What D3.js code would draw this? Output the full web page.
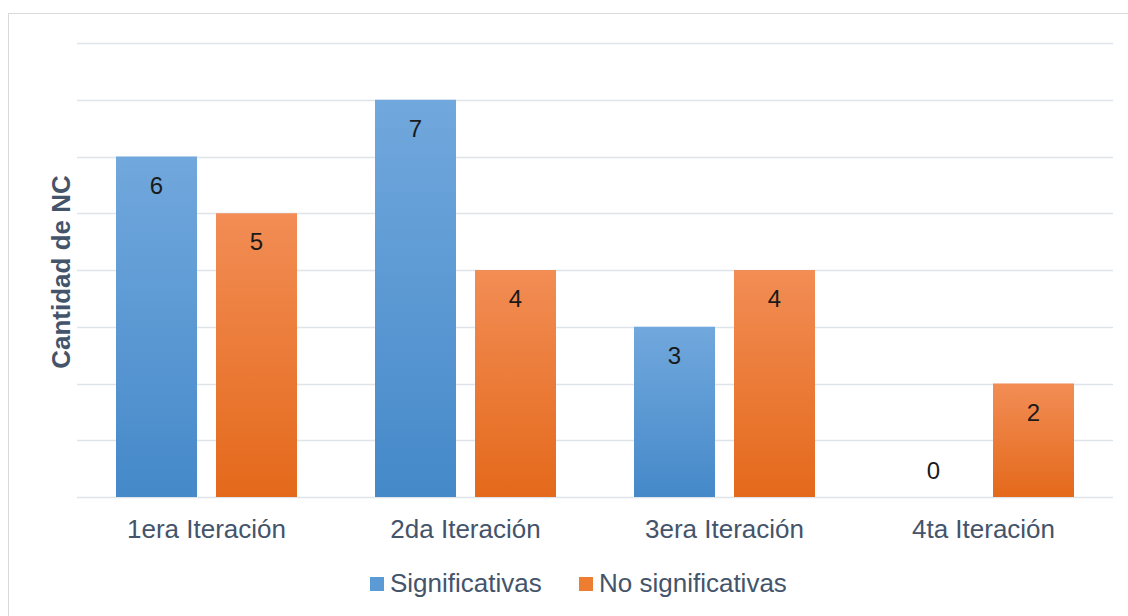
<!DOCTYPE html>
<html lang="es">
<head>
<meta charset="utf-8">
<title>Cantidad de NC por iteración</title>
<script src="https://cdn.jsdelivr.net/npm/d3@7"></script>
<style>
  body { margin: 0; background: #fff; }
  text { font-family: "Liberation Sans", Arial, sans-serif; }
</style>
</head>
<body>
<script>
// data
var categories = ["1era Iteración", "2da Iteración", "3era Iteración", "4ta Iteración"];
var seriesNames = ["Significativas", "No significativas"];
var significativas = [6, 7, 3, 0];
var noSignificativas = [5, 4, 4, 2];
var yTicks = [0, 1, 2, 3, 4, 5, 6, 7, 8];

var width = 1128, height = 616;
var margin = {top: 43, right: 15, bottom: 119, left: 77};

var svg = d3.select("body").append("svg")
    .attr("width", width)
    .attr("height", height);

// gradients like the Office style
var defs = svg.append("defs");
function grad(id, top, bottom) {
  var g = defs.append("linearGradient").attr("id", id)
      .attr("x1", 0).attr("y1", 0).attr("x2", 0).attr("y2", 1);
  g.append("stop").attr("offset", "0%").attr("stop-color", top);
  g.append("stop").attr("offset", "100%").attr("stop-color", bottom);
}
grad("gBlue", "#71a8dd", "#4589c9");
grad("gOrange", "#f28d55", "#e4691b");
var fills = ["url(#gBlue)", "url(#gOrange)"];
var legendFills = ["#5b9bd5", "#ed7d31"];

// chart border
svg.append("rect")
    .attr("x", 8.5).attr("y", 13.5)
    .attr("width", 1140).attr("height", 620)
    .attr("fill", "none").attr("stroke", "#d9d9d9");

var x0 = d3.scaleBand()
    .domain(categories)
    .range([margin.left, width - margin.right]);

var y = d3.scaleLinear()
    .domain([0, 8])
    .range([height - margin.bottom, margin.top]);

// gridlines
svg.append("g").selectAll("line")
    .data(yTicks)
    .enter().append("line")
    .attr("x1", margin.left).attr("x2", width - margin.right)
    .attr("y1", function(d) { return Math.round(y(d)) + 0.5; })
    .attr("y2", function(d) { return Math.round(y(d)) + 0.5; })
    .attr("stroke", "#dfe3ea").attr("stroke-width", 1.5);

var rows = categories.map(function(c, i) {
  return {cat: c, vals: [significativas[i], noSignificativas[i]]};
});

var barW = 81, gap = 19;
var groups = svg.append("g").selectAll("g")
    .data(rows)
    .enter().append("g")
    .attr("transform", function(d) { return "translate(" + (x0(d.cat) + x0.bandwidth() / 2) + ",0)"; });

groups.selectAll("rect")
    .data(function(d) { return d.vals; })
    .enter().append("rect")
    .attr("x", function(d, i) { return i == 0 ? -barW - gap / 2 : gap / 2; })
    .attr("y", function(d) { return y(d); })
    .attr("width", barW)
    .attr("height", function(d) { return y(0) - y(d); })
    .attr("fill", function(d, i) { return fills[i]; });

groups.selectAll("text.val")
    .data(function(d) { return d.vals; })
    .enter().append("text")
    .attr("class", "val")
    .attr("x", function(d, i) { return i == 0 ? -barW / 2 - gap / 2 : barW / 2 + gap / 2; })
    .attr("y", function(d) { return d == 0 ? y(0) - 18 : y(d) + 37; })
    .attr("text-anchor", "middle")
    .attr("font-size", "24px")
    .attr("fill", "#1a1a1a")
    .text(function(d) { return d; });

// category axis labels
svg.append("g").selectAll("text")
    .data(categories)
    .enter().append("text")
    .attr("x", function(d) { return x0(d) + x0.bandwidth() / 2; })
    .attr("y", 538)
    .attr("text-anchor", "middle")
    .attr("font-size", "26px")
    .attr("fill", "#44546a")
    .text(function(d) { return d; });

// y axis title
svg.append("text")
    .attr("transform", "translate(70,272) rotate(-90)")
    .attr("text-anchor", "middle")
    .attr("font-size", "26px")
    .attr("font-weight", "bold")
    .attr("fill", "#44546a")
    .text("Cantidad de NC");

// legend
var legendX = [370, 579];
var legend = svg.append("g").selectAll("g")
    .data(seriesNames)
    .enter().append("g")
    .attr("transform", function(d, i) { return "translate(" + legendX[i] + ",577)"; });
legend.append("rect")
    .attr("width", 14).attr("height", 14)
    .attr("fill", function(d, i) { return legendFills[i]; });
legend.append("text")
    .attr("x", 20).attr("y", 15)
    .attr("font-size", "26px")
    .attr("fill", "#44546a")
    .text(function(d) { return d; });
</script>
</body>
</html>
